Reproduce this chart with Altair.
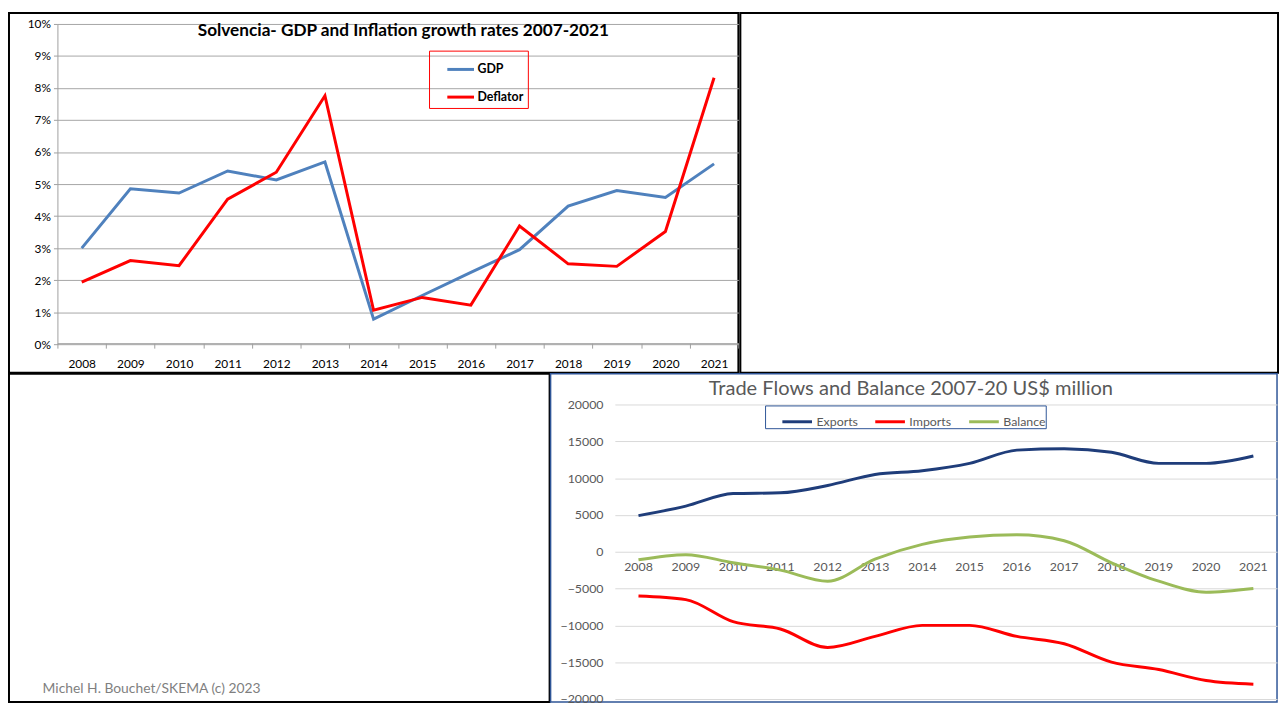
import altair as alt
import pandas as pd

# ---------------- data ----------------
years = ["2008", "2009", "2010", "2011", "2012", "2013", "2014",
         "2015", "2016", "2017", "2018", "2019", "2020", "2021"]

gdp = [3.0, 4.85, 4.72, 5.41, 5.13, 5.69, 0.78, 1.52, 2.24, 2.95, 4.31, 4.80, 4.58, 5.63]
deflator = [1.94, 2.61, 2.45, 4.53, 5.37, 7.76, 1.06, 1.46, 1.22, 3.69, 2.51, 2.43, 3.52, 8.32]
pct_ticks = [0, 1, 2, 3, 4, 5, 6, 7, 8, 9, 10]

exports = [4900, 6200, 7900, 8000, 9000, 10500, 11000, 12000, 13800, 14000, 13500, 12000, 12000, 13000]
imports = [-6000, -6500, -9500, -10500, -13000, -11500, -10000, -10000, -11500, -12500, -15000, -16000, -17500, -18000]
balance = [-1100, -400, -1500, -2500, -4000, -1000, 1000, 2000, 2300, 1500, -1500, -4000, -5500, -5000]
trade_ticks = [-20000, -15000, -10000, -5000, 0, 5000, 10000, 15000, 20000]

title1 = "Solvencia- GDP and Inflation growth rates 2007-2021"
title2 = "Trade Flows and Balance 2007-20 US$ million"
footer = "Michel H. Bouchet/SKEMA (c) 2023"

series1 = ["GDP", "Deflator"]
colors1 = ["#4f81bd", "#ff0000"]
series2 = ["Exports", "Imports", "Balance"]
colors2 = ["#1f3d7a", "#ff0000", "#9bbb59"]

df1 = pd.DataFrame({
    "year": years * 2,
    "series": ["GDP"] * len(years) + ["Deflator"] * len(years),
    "value": gdp + deflator,
})
df2 = pd.DataFrame({
    "year": years * 3,
    "series": ["Exports"] * len(years) + ["Imports"] * len(years) + ["Balance"] * len(years),
    "value": exports + imports + balance,
})

FONT = "Lato"

# ---------------- layout sizes ----------------
W1, H1 = 738, 364      # top-left chart area
WTR = 544              # top-right empty slide area
WS, H2 = 547, 332      # bottom-left empty slide area
W2 = 735               # bottom-right chart area

# ---------------- chart 1 ----------------
chart1 = alt.Chart(df1).mark_line(strokeWidth=3).encode(
    x=alt.X("year:O", sort=years, bandPosition=0.5,
            scale=alt.Scale(type="band", range=[49, 738], paddingInner=0, paddingOuter=0),
            axis=alt.Axis(title=None, labelAngle=0, offset=-30, tickBand="extent",
                          tickSize=5, tickColor="#a0a0a0", domainColor="#a0a0a0",
                          labelPadding=11, labelFont=FONT, labelFontSize=12,
                          labelColor="black", grid=False)),
    y=alt.Y("value:Q",
            scale=alt.Scale(domain=[0, 10], range=[335, 11], nice=False, zero=True),
            axis=alt.Axis(title=None, values=pct_ticks, labelExpr="datum.value + '%'",
                          offset=-49, tickSize=4, tickColor="#a0a0a0",
                          domainColor="#a0a0a0", gridColor="#a6a6a6", grid=True,
                          labelPadding=3, labelFont=FONT, labelFontSize=12,
                          labelColor="black")),
    color=alt.Color("series:N",
                    scale=alt.Scale(domain=series1, range=colors1),
                    legend=alt.Legend(title=None, orient="none", legendX=425, legendY=38,
                                      direction="vertical", symbolType="stroke",
                                      symbolStrokeWidth=3, symbolSize=729,
                                      strokeColor="#ff0000", padding=4, rowPadding=6,
                                      symbolOffset=13, labelOffset=2,
                                      labelFont=FONT, labelFontSize=12.5,
                                      labelFontWeight="bold", labelColor="black")),
).properties(
    width=W1, height=H1,
    title=alt.TitleParams(title1, anchor="middle", baseline="middle", offset=-36, dx=30,
                          font=FONT, fontSize=17.4, fontWeight="bold", color="black"),
    view=alt.ViewBackground(stroke="black", strokeWidth=2),
)

blank_tr = alt.Chart(pd.DataFrame({"v": [0]})).mark_point(opacity=0).properties(
    width=WTR, height=H1,
    view=alt.ViewBackground(stroke="black", strokeWidth=2),
)

# ---------------- spacer with footer ----------------
spacer = alt.Chart(pd.DataFrame({"v": [0]})).mark_point(opacity=0).properties(
    width=WS, height=H2,
    title=alt.TitleParams(footer, orient="bottom", anchor="start", baseline="middle",
                          offset=-13, dx=34, font=FONT, fontSize=14,
                          fontWeight="normal", color="#7f7f7f"),
    view=alt.ViewBackground(stroke="black", strokeWidth=2),
)

# ---------------- chart 2 ----------------
chart2 = alt.Chart(df2).mark_line(strokeWidth=3, interpolate="monotone").encode(
    x=alt.X("year:O", sort=years, bandPosition=0.5,
            scale=alt.Scale(type="band", range=[65, 735], paddingInner=0, paddingOuter=0),
            axis=alt.Axis(title=None, labelAngle=0, offset=-153, domain=False,
                          ticks=False, tickSize=0, labelPadding=10.5, grid=False,
                          labelFont=FONT, labelFontSize=12.5, labelColor="#595959")),
    y=alt.Y("value:Q",
            scale=alt.Scale(domain=[-20000, 20000], range=[329, 31], nice=False),
            axis=alt.Axis(title=None, values=trade_ticks, format="d", offset=-65,
                          domain=False, ticks=False, tickSize=0, labelPadding=12,
                          grid=True, gridColor="#d9d9d9",
                          labelFont=FONT, labelFontSize=12.5, labelColor="#595959")),
    color=alt.Color("series:N",
                    scale=alt.Scale(domain=series2, range=colors2),
                    legend=alt.Legend(title=None, orient="none", legendX=217, legendY=32,
                                      direction="horizontal", symbolType="stroke",
                                      symbolStrokeWidth=3, symbolSize=900,
                                      strokeColor="#2f5597", padding=0,
                                      columnPadding=0, symbolOffset=16, labelOffset=3,
                                      labelFont=FONT, labelFontSize=12.5,
                                      labelColor="#595959")),
).properties(
    width=W2, height=H2,
    title=alt.TitleParams(title2, anchor="middle", baseline="middle", offset=-36, dx=-3,
                          font=FONT, fontSize=20.3, fontWeight="normal", color="#595959"),
    view=alt.ViewBackground(stroke="#2f5597", strokeWidth=1.5),
)

row1 = alt.hconcat(chart1, blank_tr, spacing=-8).resolve_scale(color="independent")
row2 = alt.hconcat(spacer, chart2, spacing=-6).resolve_scale(color="independent")

chart = alt.vconcat(row1, row2, spacing=-2).properties(
    padding=0, background="white"
).configure(font=FONT).resolve_scale(color="independent")

chart.save("out.html", embed_options={"renderer": "svg", "actions": False})
